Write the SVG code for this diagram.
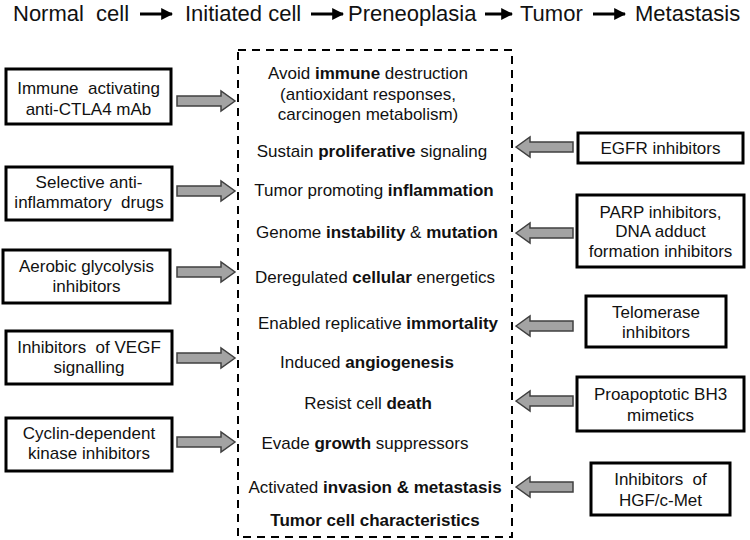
<svg xmlns="http://www.w3.org/2000/svg" xmlns:xlink="http://www.w3.org/1999/xlink" width="750" height="540" viewBox="0 0 750 540">
<style>
  text { font-family: "Liberation Sans", Arial, sans-serif; fill: #111; }
  .top { font-size: 22px; }
  .t { font-size: 17px; text-anchor: middle; }
  .b { font-weight: bold; }
  .box { fill: #fff; stroke: #000; stroke-width: 3; }
  .dash { fill: none; stroke: #000; stroke-width: 2; stroke-dasharray: 8 6; }
  .blk { stroke: #000; stroke-width: 3; fill: none; }
  .garrow { fill: #a3a3a3; stroke: #404040; stroke-width: 1.5; stroke-linejoin: miter; }
</style>
<defs>
  <marker id="ah" viewBox="0 0 10 10" refX="9" refY="5" markerWidth="4" markerHeight="4.4" orient="auto" markerUnits="strokeWidth">
    <path d="M0,0 L10,5 L0,10 Z" fill="#000"/>
  </marker>
  <path id="arrowR" class="garrow" d="M0,-5 L44,-5 L44,-10 L58,0 L44,10 L44,5 L0,5 Z"/>
  <path id="arrowL" class="garrow" d="M0,0 L14,-10 L14,-5 L57,-5 L57,5 L14,5 L14,10 Z"/>
</defs>

<g id="stages">
  <text class="top" x="13" y="21" xml:space="preserve">Normal  cell</text>
  <text class="top" x="185" y="21">Initiated cell</text>
  <text class="top" x="348" y="21">Preneoplasia</text>
  <text class="top" x="520" y="21">Tumor</text>
  <text class="top" x="635" y="21">Metastasis</text>
</g>

<g id="connectors">
  <line class="blk" x1="140" y1="14" x2="172" y2="14" marker-end="url(#ah)"/>
  <line class="blk" x1="311" y1="14" x2="343" y2="14" marker-end="url(#ah)"/>
  <line class="blk" x1="485" y1="14" x2="512" y2="14" marker-end="url(#ah)"/>
  <line class="blk" x1="593" y1="14" x2="625" y2="14" marker-end="url(#ah)"/>
  <use xlink:href="#arrowR" href="#arrowR" x="177" y="101"/>
  <use xlink:href="#arrowR" href="#arrowR" x="177" y="191"/>
  <use xlink:href="#arrowR" href="#arrowR" x="177" y="272"/>
  <use xlink:href="#arrowR" href="#arrowR" x="177" y="358"/>
  <use xlink:href="#arrowR" href="#arrowR" x="177" y="442"/>
  <use xlink:href="#arrowL" href="#arrowL" x="516" y="147"/>
  <use xlink:href="#arrowL" href="#arrowL" x="516" y="233"/>
  <use xlink:href="#arrowL" href="#arrowL" x="516" y="326"/>
  <use xlink:href="#arrowL" href="#arrowL" x="516" y="401"/>
  <use xlink:href="#arrowL" href="#arrowL" x="516" y="487"/>
</g>

<g id="characteristics">
  <rect class="dash" x="238" y="50" width="274" height="487"/>
  <text class="t" x="368" y="79">Avoid <tspan class="b">immune</tspan> destruction</text>
  <text class="t" x="368" y="100">(antioxidant responses,</text>
  <text class="t" x="368" y="120">carcinogen metabolism)</text>
  <text class="t" x="372" y="157">Sustain <tspan class="b">proliferative</tspan> signaling</text>
  <text class="t" x="374" y="196">Tumor promoting <tspan class="b">inflammation</tspan></text>
  <text class="t" x="377" y="238">Genome <tspan class="b">instability</tspan> &amp; <tspan class="b">mutation</tspan></text>
  <text class="t" x="375" y="283">Deregulated <tspan class="b">cellular</tspan> energetics</text>
  <text class="t" x="378" y="329">Enabled replicative <tspan class="b">immortality</tspan></text>
  <text class="t" x="367" y="368">Induced <tspan class="b">angiogenesis</tspan></text>
  <text class="t" x="368" y="409">Resist cell <tspan class="b">death</tspan></text>
  <text class="t" x="365" y="449">Evade <tspan class="b">growth</tspan> suppressors</text>
  <text class="t" x="375" y="493">Activated <tspan class="b">invasion &amp; metastasis</tspan></text>
  <text class="t b" x="375" y="526">Tumor cell characteristics</text>
</g>

<g id="immune-activating">
  <rect class="box" x="6" y="69" width="165" height="55"/>
  <text class="t" x="88.5" y="94" xml:space="preserve">Immune  activating</text>
  <text class="t" x="88.5" y="115">anti-CTLA4 mAb</text>
</g>
<g id="anti-inflammatory">
  <rect class="box" x="6" y="167" width="166" height="53"/>
  <text class="t" x="89" y="188">Selective anti-</text>
  <text class="t" x="89" y="208" xml:space="preserve">inflammatory  drugs</text>
</g>
<g id="glycolysis">
  <rect class="box" x="3" y="250" width="167" height="53"/>
  <text class="t" x="86.5" y="272">Aerobic glycolysis</text>
  <text class="t" x="86.5" y="292">inhibitors</text>
</g>
<g id="vegf">
  <rect class="box" x="6" y="331" width="166" height="53"/>
  <text class="t" x="89" y="353" xml:space="preserve">Inhibitors  of VEGF</text>
  <text class="t" x="89" y="373">signalling</text>
</g>
<g id="cdk">
  <rect class="box" x="6" y="418" width="166" height="53"/>
  <text class="t" x="89" y="439">Cyclin-dependent</text>
  <text class="t" x="89" y="459">kinase inhibitors</text>
</g>

<g id="egfr">
  <rect class="box" x="578" y="133" width="165" height="30"/>
  <text class="t" x="660.5" y="154">EGFR inhibitors</text>
</g>
<g id="parp">
  <rect class="box" x="577" y="195" width="167" height="72"/>
  <text class="t" x="660.5" y="218">PARP inhibitors,</text>
  <text class="t" x="660.5" y="237">DNA adduct</text>
  <text class="t" x="660.5" y="257">formation inhibitors</text>
</g>
<g id="telomerase">
  <rect class="box" x="586" y="296" width="140" height="51"/>
  <text class="t" x="656" y="318">Telomerase</text>
  <text class="t" x="656" y="338">inhibitors</text>
</g>
<g id="bh3">
  <rect class="box" x="577" y="377" width="167" height="54"/>
  <text class="t" x="660.5" y="400">Proapoptotic BH3</text>
  <text class="t" x="660.5" y="421">mimetics</text>
</g>
<g id="hgf">
  <rect class="box" x="591" y="463" width="139" height="52"/>
  <text class="t" x="660.5" y="485" xml:space="preserve">Inhibitors  of</text>
  <text class="t" x="660.5" y="506">HGF/c-Met</text>
</g>
</svg>
